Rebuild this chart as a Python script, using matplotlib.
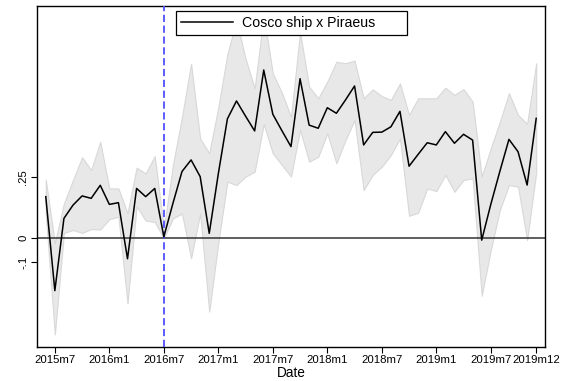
import matplotlib
matplotlib.use("Agg")
import matplotlib.pyplot as plt
import numpy as np

plt.rcParams['font.family'] = ['Liberation Sans', 'DejaVu Sans']

# Monthly data, 2015m6 .. 2019m12
start_year, start_month = 2015, 6
coef = [0.170, -0.219, 0.080, 0.135, 0.173, 0.163, 0.217, 0.138, 0.145, -0.087,
        0.204, 0.170, 0.204, 0.004, 0.142, 0.274, 0.322, 0.253, 0.018, 0.265,
        0.492, 0.566, 0.503, 0.442, 0.694, 0.511, 0.443, 0.377, 0.658, 0.466,
        0.453, 0.538, 0.515, 0.570, 0.628, 0.384, 0.436, 0.437, 0.459, 0.523,
        0.296, 0.345, 0.393, 0.384, 0.439, 0.391, 0.428, 0.404, -0.010, 0.138,
        0.275, 0.407, 0.356, 0.218, 0.494]
upper = [0.240, -0.023, 0.142, 0.239, 0.333, 0.280, 0.397, 0.204, 0.204, 0.101,
         0.290, 0.266, 0.338, 0.039, 0.300, 0.500, 0.720, 0.410, 0.350, 0.540,
         0.760, 0.900, 0.740, 0.618, 0.920, 0.680, 0.600, 0.500, 0.850, 0.625,
         0.577, 0.646, 0.728, 0.722, 0.733, 0.577, 0.614, 0.586, 0.570, 0.639,
         0.508, 0.577, 0.577, 0.577, 0.621, 0.591, 0.615, 0.563, 0.253, 0.370,
         0.480, 0.598, 0.508, 0.471, 0.722]
lower = [0.100, -0.400, 0.020, 0.032, 0.020, 0.036, 0.034, 0.077, 0.087, -0.272,
         0.130, 0.071, 0.065, -0.002, 0.080, 0.100, -0.085, 0.100, -0.306, -0.020,
         0.232, 0.218, 0.253, 0.273, 0.471, 0.349, 0.301, 0.253, 0.446, 0.315,
         0.335, 0.432, 0.308, 0.404, 0.487, 0.197, 0.260, 0.294, 0.342, 0.411,
         0.091, 0.103, 0.204, 0.193, 0.260, 0.190, 0.239, 0.246, -0.240, -0.051,
         0.115, 0.218, 0.211, -0.010, 0.270]

tick_labels = ["2015m7", "2016m1", "2016m7", "2017m1", "2017m7", "2018m1",
               "2018m7", "2019m1", "2019m7", "2019m12"]
ytick_vals = [-0.1, 0, 0.25]
ytick_labels = ["-.1", "0", ".25"]
event_label = "2016m7"
series_label = "Cosco ship x Piraeus"


def mnum(lbl):
    y, m = lbl.split("m")
    return int(y) * 12 + int(m) - 1


x0 = start_year * 12 + start_month - 1
x = np.arange(len(coef)) + x0

fig = plt.figure(figsize=(5.66, 3.81), dpi=100)
ax = fig.add_axes([0.0648, 0.09, 0.8986, 0.8943])

ax.fill_between(x, lower, upper, facecolor='#e8e8e8', edgecolor='#d8d8d8',
                linewidth=0.8, zorder=1)
ax.axhline(0, color='#333333', linewidth=1.1, zorder=2)
ax.axvline(mnum(event_label), color='#4f4fff', linewidth=1.3,
           linestyle=(0, (4, 2)), zorder=3)
ax.plot(x, coef, color='black', linewidth=1.1, label=series_label, zorder=4)

ax.set_xlim(mnum("2015m5"), mnum("2020m1"))
ax.set_ylim(-0.451, 0.959)

ax.set_xticks([mnum(t) for t in tick_labels])
ax.set_xticklabels(tick_labels, fontsize=8.2)
ax.set_yticks(ytick_vals)
ax.set_yticklabels(ytick_labels, fontsize=8.2, rotation=90, va='center')
ax.tick_params(direction='out', length=4, width=0.8, pad=2)
ax.set_xlabel("Date", fontsize=9.8, labelpad=1)

for s in ax.spines.values():
    s.set_linewidth(1.0)
    s.set_color('black')

leg = ax.legend(loc='upper left', bbox_to_anchor=(0.274, 0.91, 0.4535, 0.075),
                mode='expand', borderaxespad=0, fontsize=10.2, handlelength=3.7,
                fancybox=False, framealpha=1, edgecolor='black',
                borderpad=0.35, handletextpad=0.6)
leg.get_frame().set_linewidth(0.9)
leg.set_zorder(10)

fig.savefig("out.png", dpi=100)
